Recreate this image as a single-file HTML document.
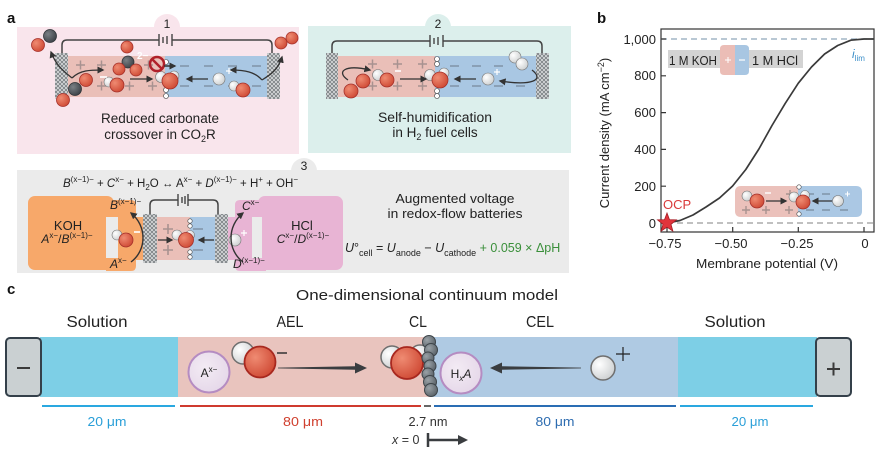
<!DOCTYPE html>
<html><head><meta charset="utf-8"><style>
html,body{margin:0;padding:0;background:#fff;}
svg{display:block;font-family:"Liberation Sans",sans-serif;}
</style></head><body>
<svg width="882" height="457" viewBox="0 0 882 457" xmlns="http://www.w3.org/2000/svg">
<defs>
<pattern id="hatch" width="4" height="4" patternUnits="userSpaceOnUse">
<rect width="4" height="4" fill="#d6d9da"/>
<path d="M0,0 L4,4 M4,0 L0,4" stroke="#6d7377" stroke-width="0.7"/>
</pattern>
<radialGradient id="gO" cx="0.35" cy="0.35" r="0.7"><stop offset="0" stop-color="#ef8b72"/><stop offset="1" stop-color="#cf4a35"/></radialGradient>
<radialGradient id="gH" cx="0.35" cy="0.35" r="0.7"><stop offset="0" stop-color="#ffffff"/><stop offset="1" stop-color="#cdd0d1"/></radialGradient>
<radialGradient id="gC" cx="0.35" cy="0.35" r="0.7"><stop offset="0" stop-color="#7a8085"/><stop offset="1" stop-color="#3c4247"/></radialGradient>
<radialGradient id="gB" cx="0.35" cy="0.35" r="0.7"><stop offset="0" stop-color="#9aa2a7"/><stop offset="1" stop-color="#5a6268"/></radialGradient>
<radialGradient id="gP" cx="0.4" cy="0.4" r="0.7"><stop offset="0" stop-color="#f3ebf4"/><stop offset="1" stop-color="#e4d6e8"/></radialGradient>
<marker id="ar" viewBox="0 0 10 10" refX="8" refY="5" markerWidth="7" markerHeight="7" markerUnits="userSpaceOnUse" orient="auto"><path d="M0,0 L10,5 L0,10 z" fill="#333"/></marker>
</defs>

<!-- ============ PANEL A1 ============ -->
<text x="7" y="23" font-size="15" font-weight="bold" fill="#111">a</text>
<rect x="17" y="27" width="282" height="127" fill="#f9e5ec"/>
<circle cx="167" cy="27" r="13" fill="#f9e5ec"/>
<text x="167" y="28" font-size="12" text-anchor="middle" fill="#222">1</text>
<path d="M62,57 V45 Q62,40 67,40 H159 M172,40 H267 Q272,40 272,45 V57" fill="none" stroke="#444" stroke-width="1.5"/>
<g stroke="#444" stroke-width="1.4"><line x1="159" y1="34" x2="159" y2="46"/><line x1="163" y1="37" x2="163" y2="43"/><line x1="167" y1="36" x2="167" y2="44"/><line x1="172" y1="34" x2="172" y2="46"/></g>
<rect x="68" y="56" width="97" height="41" fill="#eabfb8"/>
<rect x="165" y="56" width="102" height="41" fill="#a9c7e3"/>
<rect x="55" y="53" width="13" height="46" fill="url(#hatch)"/>
<rect x="267" y="53" width="13" height="46" fill="url(#hatch)"/>
<g stroke="#a89290" stroke-width="1.5"><path d="M76,65h9M80.5,60.5v9 M97,65h9M101.5,60.5v9 M144,65h9M148.5,60.5v9 M97,86h9M101.5,81.5v9 M125,86h9M129.5,81.5v9 M148,86h9M152.5,81.5v9"/></g>
<g stroke="#8094a8" stroke-width="1.5"><path d="M180,66h9M204,66h9M228,66h9M252,66h9M180,86h9M204,86h9M228,86h9M252,86h9"/></g>
<!-- molecules a1 -->
<circle cx="38" cy="45" r="6.5" fill="url(#gO)" stroke="#a5302a" stroke-width="0.8"/>
<circle cx="50" cy="36" r="6.5" fill="url(#gC)" stroke="#2f3438" stroke-width="0.8"/>
<circle cx="281" cy="43" r="6" fill="url(#gO)" stroke="#a5302a" stroke-width="0.8"/>
<circle cx="292" cy="38" r="6" fill="url(#gO)" stroke="#a5302a" stroke-width="0.8"/>
<circle cx="86" cy="80" r="6.5" fill="url(#gO)" stroke="#a5302a" stroke-width="0.8"/>
<circle cx="75" cy="89" r="6.5" fill="url(#gC)" stroke="#2f3438" stroke-width="0.8"/>
<circle cx="63" cy="100" r="6.5" fill="url(#gO)" stroke="#a5302a" stroke-width="0.8"/>
<circle cx="127" cy="47" r="6" fill="url(#gO)" stroke="#a5302a" stroke-width="0.8"/>
<circle cx="128" cy="62" r="6" fill="url(#gC)" stroke="#2f3438" stroke-width="0.8"/>
<circle cx="119" cy="69" r="6" fill="url(#gO)" stroke="#a5302a" stroke-width="0.8"/>
<circle cx="136" cy="70" r="6" fill="url(#gO)" stroke="#a5302a" stroke-width="0.8"/>
<text x="137" y="59" font-size="10" font-weight="bold" fill="#fff">2−</text>
<circle cx="109" cy="82" r="5" fill="url(#gH)" stroke="#777" stroke-width="0.6"/>
<circle cx="117" cy="85" r="7" fill="url(#gO)" stroke="#a5302a" stroke-width="0.8"/>
<path d="M100,77h7" stroke="#fff" stroke-width="1.6"/>
<g fill="#fff" stroke="#444" stroke-width="0.6"><circle cx="166" cy="62" r="2.5"/><circle cx="166" cy="90" r="2.5"/><circle cx="166" cy="96" r="2.5"/></g>
<circle cx="174" cy="76" r="5" fill="url(#gH)" stroke="#777" stroke-width="0.6"/>
<circle cx="161" cy="77" r="5.5" fill="url(#gH)" stroke="#777" stroke-width="0.6"/>
<circle cx="170" cy="81" r="8" fill="url(#gO)" stroke="#a5302a" stroke-width="0.8"/>
<circle cx="157" cy="64" r="7" fill="none" stroke="#b0202a" stroke-width="2.5"/>
<line x1="152" y1="59" x2="162" y2="69" stroke="#b0202a" stroke-width="2.5"/>
<path d="M164,66 L175,66" stroke="#333" stroke-width="1.5" marker-end="url(#ar)"/>
<circle cx="219" cy="79" r="6" fill="url(#gH)" stroke="#777" stroke-width="0.6"/>
<path d="M226,71h6M229,68v6" stroke="#fff" stroke-width="1.2"/>
<circle cx="234" cy="86" r="5" fill="url(#gH)" stroke="#777" stroke-width="0.6"/>
<circle cx="243" cy="90" r="7" fill="url(#gO)" stroke="#a5302a" stroke-width="0.8"/>
<path d="M130,79 L152,79" stroke="#333" stroke-width="1.3" marker-end="url(#ar)"/>
<path d="M208,79 L187,79" stroke="#333" stroke-width="1.3" marker-end="url(#ar)"/>
<path d="M72,78 C62,70 56,65 51,52" fill="none" stroke="#333" stroke-width="1.3" marker-end="url(#ar)"/>
<path d="M72,78 C80,70 90,70 103,70" fill="none" stroke="#333" stroke-width="1.3" marker-end="url(#ar)"/>
<path d="M262,80 C270,75 278,70 282,57" fill="none" stroke="#333" stroke-width="1.3" marker-end="url(#ar)"/>
<path d="M262,80 C255,72 245,70 231,70" fill="none" stroke="#333" stroke-width="1.3" marker-end="url(#ar)"/>
<text x="160" y="123" font-size="13.5" text-anchor="middle" fill="#222" textLength="118" lengthAdjust="spacingAndGlyphs">Reduced carbonate</text>
<text x="160" y="139" font-size="13.5" text-anchor="middle" fill="#222">crossover in CO<tspan font-size="9" dy="3">2</tspan><tspan dy="-3">R</tspan></text>

<!-- ============ PANEL A2 ============ -->
<rect x="308" y="26" width="263" height="127" fill="#dcefec"/>
<circle cx="438" cy="27" r="13" fill="#dcefec"/>
<text x="438" y="28" font-size="12" text-anchor="middle" fill="#222">2</text>
<path d="M332,57 V46 Q332,41 337,41 H430 M443,41 H537 Q542,41 542,46 V57" fill="none" stroke="#444" stroke-width="1.5"/>
<g stroke="#444" stroke-width="1.4"><line x1="430" y1="35" x2="430" y2="47"/><line x1="434" y1="38" x2="434" y2="44"/><line x1="438" y1="37" x2="438" y2="45"/><line x1="443" y1="35" x2="443" y2="47"/></g>
<rect x="338" y="56" width="97" height="41" fill="#eabfb8"/>
<rect x="435" y="56" width="101" height="41" fill="#a9c7e3"/>
<rect x="326" y="53" width="12" height="46" fill="url(#hatch)"/>
<rect x="536" y="53" width="13" height="46" fill="url(#hatch)"/>
<g stroke="#a89290" stroke-width="1.5"><path d="M368,64h9M372.5,59.5v9 M393,64h9M397.5,59.5v9 M418,64h9M422.5,59.5v9 M368,86h9M372.5,81.5v9 M393,86h9M397.5,81.5v9 M418,86h9M422.5,81.5v9"/></g>
<g stroke="#8094a8" stroke-width="1.5"><path d="M450,66h9M472,66h9M494,66h9M516,66h9M450,86h9M472,86h9M494,86h9M516,86h9"/></g>
<circle cx="363" cy="81" r="7" fill="url(#gO)" stroke="#a5302a" stroke-width="0.8"/>
<circle cx="351" cy="91" r="7" fill="url(#gO)" stroke="#a5302a" stroke-width="0.8"/>
<circle cx="378" cy="75" r="5.5" fill="url(#gH)" stroke="#777" stroke-width="0.6"/>
<circle cx="387" cy="80" r="7" fill="url(#gO)" stroke="#a5302a" stroke-width="0.8"/>
<path d="M395,71h6" stroke="#fff" stroke-width="1.6"/>
<g fill="#fff" stroke="#444" stroke-width="0.6"><circle cx="437" cy="59" r="2.5"/><circle cx="437" cy="64" r="2.5"/><circle cx="437" cy="91" r="2.5"/><circle cx="437" cy="96" r="2.5"/></g>
<circle cx="444" cy="73" r="5" fill="url(#gH)" stroke="#777" stroke-width="0.6"/>
<circle cx="430" cy="75" r="5.5" fill="url(#gH)" stroke="#777" stroke-width="0.6"/>
<circle cx="440" cy="80" r="8" fill="url(#gO)" stroke="#a5302a" stroke-width="0.8"/>
<path d="M400,79 L426,79" stroke="#333" stroke-width="1.3" marker-end="url(#ar)"/>
<path d="M476,79 L455,79" stroke="#333" stroke-width="1.3" marker-end="url(#ar)"/>
<circle cx="488" cy="79" r="6" fill="url(#gH)" stroke="#777" stroke-width="0.6"/>
<path d="M494,72h6M497,69v6" stroke="#fff" stroke-width="1.2"/>
<circle cx="515" cy="57" r="6" fill="url(#gH)" stroke="#777" stroke-width="0.6"/>
<circle cx="522" cy="64" r="6" fill="url(#gH)" stroke="#777" stroke-width="0.6"/>
<path d="M348,80 C336,72 344,64 370,70" fill="none" stroke="#333" stroke-width="1.3" marker-end="url(#ar)"/>
<path d="M532,70 C545,80 532,86 500,81" fill="none" stroke="#333" stroke-width="1.3" marker-end="url(#ar)"/>
<text x="435" y="122" font-size="13.5" text-anchor="middle" fill="#222" textLength="114" lengthAdjust="spacingAndGlyphs">Self-humidification</text>
<text x="435" y="137" font-size="13.5" text-anchor="middle" fill="#222">in H<tspan font-size="9" dy="3">2</tspan><tspan dy="-3"> fuel cells</tspan></text>

<!-- ============ PANEL A3 ============ -->
<rect x="17" y="170" width="552" height="103" fill="#ebebeb"/>
<circle cx="304" cy="171" r="13" fill="#ebebeb"/>
<text x="304" y="170" font-size="12" text-anchor="middle" fill="#222">3</text>
<text x="63" y="187" font-size="11.5" fill="#222"><tspan font-style="italic">B</tspan><tspan font-size="8" dy="-5">(x−1)−</tspan><tspan dy="5"> + </tspan><tspan font-style="italic">C</tspan><tspan font-size="8" dy="-5">x−</tspan><tspan dy="5"> + H</tspan><tspan font-size="8" dy="3">2</tspan><tspan dy="-3">O ↔ A</tspan><tspan font-size="8" dy="-5">x−</tspan><tspan dy="5"> + </tspan><tspan font-style="italic">D</tspan><tspan font-size="8" dy="-5">(x−1)−</tspan><tspan dy="5"> + H</tspan><tspan font-size="8" dy="-5">+</tspan><tspan dy="5"> + OH</tspan><tspan font-size="8" dy="-5">−</tspan></text>
<!-- KOH -->
<rect x="28" y="196" width="86" height="74" rx="7" fill="#f7a86a"/>
<path d="M106,200 H131 Q136,200 136,205 V217 H143 V260 H136 V266 Q136,271 131,271 H106 V258 H118 V217 H106 z" fill="#f7a86a"/>
<rect x="106" y="217" width="12" height="41" fill="#ebebeb"/>
<text x="68" y="230" font-size="13" text-anchor="middle" fill="#222">KOH</text>
<text x="67" y="243" font-size="12" text-anchor="middle" fill="#222"><tspan font-style="italic">A</tspan><tspan font-size="8" dy="-5">x−</tspan><tspan dy="5">/</tspan><tspan font-style="italic">B</tspan><tspan font-size="8" dy="-5">(x−1)−</tspan></text>
<!-- HCl -->
<rect x="258" y="196" width="85" height="74" rx="7" fill="#e8b4d4"/>
<path d="M266,200 H240 Q235,200 235,205 V217 H228 V260 H235 V266 Q235,271 240,271 H266 V258 H252 V217 H266 z" fill="#e8b4d4"/>
<rect x="252" y="217" width="10" height="41" fill="#ebebeb"/>
<text x="302" y="230" font-size="13" text-anchor="middle" fill="#222">HCl</text>
<text x="303" y="243" font-size="12" text-anchor="middle" fill="#222"><tspan font-style="italic">C</tspan><tspan font-size="8" dy="-5">x−</tspan><tspan dy="5">/</tspan><tspan font-style="italic">D</tspan><tspan font-size="8" dy="-5">(x−1)−</tspan></text>
<!-- cell -->
<path d="M150,217 V205 Q150,200 155,200 H178 M188,200 H213 Q218,200 218,205 V217" fill="none" stroke="#444" stroke-width="1.5"/>
<g stroke="#444" stroke-width="1.4"><line x1="178" y1="194" x2="178" y2="206"/><line x1="182" y1="197" x2="182" y2="203"/><line x1="185" y1="196" x2="185" y2="204"/><line x1="188" y1="194" x2="188" y2="206"/></g>
<rect x="157" y="217" width="33" height="43" fill="#eabfb8"/>
<rect x="190" y="217" width="25" height="43" fill="#a9c7e3"/>
<rect x="143" y="214" width="14" height="49" fill="url(#hatch)"/>
<rect x="215" y="214" width="13" height="49" fill="url(#hatch)"/>
<g stroke="#a89290" stroke-width="1.6"><path d="M163,229h10M168,224v10 M163,250h10M168,245v10"/></g>
<g stroke="#8094a8" stroke-width="1.6"><path d="M193,229h10 M193,250h10"/></g>
<circle cx="117" cy="235" r="5" fill="url(#gH)" stroke="#777" stroke-width="0.6"/>
<circle cx="126" cy="240" r="7" fill="url(#gO)" stroke="#a5302a" stroke-width="0.8"/>
<path d="M134,232h6" stroke="#fff" stroke-width="1.6"/>
<g fill="#fff" stroke="#444" stroke-width="0.6"><circle cx="190" cy="221" r="2.2"/><circle cx="190" cy="226" r="2.2"/><circle cx="190" cy="252" r="2.2"/><circle cx="190" cy="257" r="2.2"/></g>
<circle cx="190" cy="235" r="4.5" fill="url(#gH)" stroke="#777" stroke-width="0.6"/>
<circle cx="177" cy="235" r="5" fill="url(#gH)" stroke="#777" stroke-width="0.6"/>
<circle cx="186" cy="240" r="7.5" fill="url(#gO)" stroke="#a5302a" stroke-width="0.8"/>
<path d="M158,240 L172,240" stroke="#333" stroke-width="1.3" marker-end="url(#ar)"/>
<path d="M214,240 L199,240" stroke="#333" stroke-width="1.3" marker-end="url(#ar)"/>
<circle cx="235" cy="240" r="6" fill="url(#gH)" stroke="#777" stroke-width="0.6"/>
<path d="M241,233h6M244,230v6" stroke="#fff" stroke-width="1.2"/>
<path d="M131,262 C147,250 147,226 131,213" fill="none" stroke="#333" stroke-width="1.4" marker-end="url(#ar)"/>
<path d="M243,262 C227,250 227,226 243,213" fill="none" stroke="#333" stroke-width="1.4" marker-end="url(#ar)"/>
<text x="110" y="209" font-size="12" fill="#222"><tspan font-style="italic">B</tspan><tspan font-size="8" dy="-5">(x−1)−</tspan></text>
<text x="110" y="268" font-size="12" fill="#222"><tspan font-style="italic">A</tspan><tspan font-size="8" dy="-5">x−</tspan></text>
<text x="242" y="210" font-size="12" fill="#222"><tspan font-style="italic">C</tspan><tspan font-size="8" dy="-5">x−</tspan></text>
<text x="233" y="268" font-size="12" fill="#222"><tspan font-style="italic">D</tspan><tspan font-size="8" dy="-5">(x−1)−</tspan></text>
<text x="455" y="203" font-size="13" text-anchor="middle" fill="#222" textLength="119" lengthAdjust="spacingAndGlyphs">Augmented voltage</text>
<text x="455" y="218" font-size="13" text-anchor="middle" fill="#222" textLength="135" lengthAdjust="spacingAndGlyphs">in redox-flow batteries</text>
<text x="345" y="252" font-size="12.5" fill="#222"><tspan font-style="italic">U</tspan>°<tspan font-size="9" dy="4">cell</tspan><tspan dy="-4"> = </tspan><tspan font-style="italic">U</tspan><tspan font-size="9" dy="4">anode</tspan><tspan dy="-4"> − </tspan><tspan font-style="italic">U</tspan><tspan font-size="9" dy="4">cathode</tspan><tspan dy="-4" fill="#3a8f3a"> + 0.059 × ΔpH</tspan></text>

<!-- ============ PANEL B ============ -->
<text x="597" y="23" font-size="15" font-weight="bold" fill="#111">b</text>
<rect x="661" y="29" width="213" height="203" fill="none" stroke="#333" stroke-width="1.2"/>
<line x1="661" y1="39" x2="874" y2="39" stroke="#8fa6ba" stroke-width="1.3" stroke-dasharray="6,4"/>
<line x1="667" y1="223" x2="874" y2="223" stroke="#9a9a9a" stroke-width="1.3" stroke-dasharray="6,4"/>
<g stroke="#333" stroke-width="1.2">
<path d="M661,39h5 M661,75.8h5 M661,112.6h5 M661,149.4h5 M661,186.2h5 M661,223h5"/>
<path d="M667,232v-5 M732.7,232v-5 M798.3,232v-5 M864,232v-5"/>
</g>
<g font-size="13" fill="#222" text-anchor="end">
<text x="656" y="44">1,000</text><text x="656" y="80">800</text><text x="656" y="117">600</text><text x="656" y="154">400</text><text x="656" y="191">200</text><text x="656" y="228">0</text>
</g>
<g font-size="13" fill="#222" text-anchor="middle">
<text x="665" y="248">−0.75</text><text x="731" y="248">−0.50</text><text x="797" y="248">−0.25</text><text x="865" y="248">0</text>
</g>
<text x="767" y="268" font-size="13" text-anchor="middle" fill="#222" textLength="142" lengthAdjust="spacingAndGlyphs">Membrane potential (V)</text>
<text transform="translate(609,133) rotate(-90)" font-size="13" text-anchor="middle" fill="#222">Current density (mA cm<tspan font-size="9" dy="-5">−2</tspan><tspan dy="5">)</tspan></text>
<polyline fill="none" stroke="#3a3a3a" stroke-width="1.7" stroke-linejoin="round" points="667,223 680,220.5 693,215 706,207 719.5,198 732.6,186 745.8,169.5 758.9,149 772,125.5 785.2,103.4 798.3,83.2 811.5,67 824.6,54 837.7,45.5 850.9,40.2 864,39 874,39"/>
<rect x="668" y="50" width="135" height="18" fill="#d3d3d3"/>
<path d="M724,45 H735 V75 H724 Q720,75 720,71 V49 Q720,45 724,45 z" fill="#ebbdb6"/>
<path d="M735,45 H745 Q749,45 749,49 V71 Q749,75 745,75 H735 z" fill="#a8c6e2"/>
<path d="M725,60h6M728,57v6" stroke="#fff" stroke-width="1"/>
<path d="M739,60h6" stroke="#fff" stroke-width="1.2"/>
<text x="669" y="65" font-size="13" fill="#222" textLength="48" lengthAdjust="spacingAndGlyphs">1 M KOH</text>
<text x="752" y="65" font-size="13" fill="#222" textLength="46" lengthAdjust="spacingAndGlyphs">1 M HCl</text>
<text x="852" y="58" font-size="12" fill="#3d8fc9"><tspan font-style="italic">i</tspan><tspan font-size="8" dy="3">lim</tspan></text>
<!-- inset -->
<path d="M741,186 H798 V217 H741 Q735,217 735,211 V192 Q735,186 741,186 z" fill="#ebc1bb"/>
<path d="M798,186 H856 Q862,186 862,192 V211 Q862,217 856,217 H798 z" fill="#abc8e4"/>
<g stroke="#a89290" stroke-width="1.4"><path d="M742,210h8M746,206v8 M762,210h8M766,206v8 M785,210h8M789,206v8 M786,194h8M790,190v8"/></g>
<g stroke="#8094a8" stroke-width="1.4"><path d="M806,194h8M822,194h8M806,210h8M822,210h8M840,210h8"/></g>
<circle cx="747" cy="196" r="5" fill="url(#gH)" stroke="#777" stroke-width="0.6"/>
<circle cx="757" cy="201" r="7" fill="url(#gO)" stroke="#a5302a" stroke-width="0.8"/>
<path d="M765,193h6" stroke="#fff" stroke-width="1.4"/>
<g fill="#fff" stroke="#444" stroke-width="0.6"><circle cx="799" cy="187" r="2.2"/><circle cx="799" cy="214" r="2.2"/></g>
<circle cx="805" cy="195" r="4.5" fill="url(#gH)" stroke="#777" stroke-width="0.6"/>
<circle cx="794" cy="197" r="5" fill="url(#gH)" stroke="#777" stroke-width="0.6"/>
<circle cx="803" cy="202" r="7" fill="url(#gO)" stroke="#a5302a" stroke-width="0.8"/>
<path d="M766,201 L786,201" stroke="#333" stroke-width="1.2" marker-end="url(#ar)"/>
<path d="M832,201 L813,201" stroke="#333" stroke-width="1.2" marker-end="url(#ar)"/>
<circle cx="838" cy="201" r="5.5" fill="url(#gH)" stroke="#777" stroke-width="0.6"/>
<path d="M845,194h5M847.5,191.5v5" stroke="#fff" stroke-width="1"/>
<!-- star -->
<polygon points="667,213 669.5,219.6 676.5,219.9 671,224.3 672.9,231.1 667,227.2 661.1,231.1 663,224.3 657.5,219.9 664.5,219.6" fill="#e0343c" stroke="#a51c24" stroke-width="0.8"/>
<text x="663" y="209" font-size="13" fill="#d93a3a">OCP</text>

<!-- ============ PANEL C ============ -->
<text x="7" y="294" font-size="15" font-weight="bold" fill="#111">c</text>
<text x="427" y="300" font-size="15" text-anchor="middle" fill="#222" textLength="262" lengthAdjust="spacingAndGlyphs">One-dimensional continuum model</text>
<g font-size="15.5" fill="#222" text-anchor="middle">
<text x="97" y="327" textLength="61" lengthAdjust="spacingAndGlyphs">Solution</text>
<text x="290" y="327" textLength="27" lengthAdjust="spacingAndGlyphs">AEL</text>
<text x="418" y="327" textLength="18" lengthAdjust="spacingAndGlyphs">CL</text>
<text x="540" y="327" textLength="28" lengthAdjust="spacingAndGlyphs">CEL</text>
<text x="735" y="327" textLength="61" lengthAdjust="spacingAndGlyphs">Solution</text>
</g>
<rect x="40" y="337" width="139" height="60" fill="#7dcfe6"/>
<rect x="178" y="337" width="252" height="60" fill="#e9c4be"/>
<rect x="430" y="337" width="248" height="60" fill="#afcae3"/>
<rect x="678" y="337" width="139" height="60" fill="#7dcfe6"/>
<rect x="6" y="338" width="35" height="58" rx="4" fill="#cad0d2" stroke="#34404a" stroke-width="2"/>
<line x1="17" y1="368" x2="30" y2="368" stroke="#3a3a3a" stroke-width="2"/>
<rect x="816" y="338" width="35" height="58" rx="4" fill="#cad0d2" stroke="#34404a" stroke-width="2"/>
<path d="M827,369h13M833.5,362.5v13" stroke="#3a3a3a" stroke-width="2"/>
<!-- AEL molecules -->
<circle cx="209" cy="372" r="20.5" fill="url(#gP)" stroke="#b58cc2" stroke-width="2"/>
<text x="209" y="377" font-size="12" text-anchor="middle" fill="#222">A<tspan font-size="8" dy="-5">x−</tspan></text>
<circle cx="243" cy="353" r="11" fill="url(#gH)" stroke="#6f6f6f" stroke-width="1.5"/>
<circle cx="260" cy="362" r="15.5" fill="url(#gO)" stroke="#a8281f" stroke-width="1.8"/>
<line x1="277" y1="353" x2="287" y2="353" stroke="#333" stroke-width="1.5"/>
<polygon points="278,367.6 355,366.3 355,362.5 367,368 355,373.5 355,369.7 278,368.4" fill="#3a3d40"/>
<!-- CL -->
<circle cx="420" cy="355" r="10" fill="url(#gH)" stroke="#6f6f6f" stroke-width="1.5"/>
<circle cx="392" cy="357" r="11" fill="url(#gH)" stroke="#6f6f6f" stroke-width="1.5"/>
<circle cx="407" cy="363" r="16" fill="url(#gO)" stroke="#a8281f" stroke-width="1.8"/>
<g fill="url(#gB)" stroke="#3e454a" stroke-width="1">
<circle cx="429" cy="342" r="6.5"/><circle cx="431" cy="350" r="6.5"/><circle cx="428" cy="358" r="6"/><circle cx="430" cy="366" r="6"/><circle cx="428" cy="374" r="6"/><circle cx="430" cy="382" r="6.5"/><circle cx="431" cy="390" r="6.5"/>
</g>
<!-- CEL -->
<circle cx="461" cy="373" r="20.5" fill="url(#gP)" stroke="#b58cc2" stroke-width="2"/>
<text x="461" y="378" font-size="12" text-anchor="middle" fill="#222">H<tspan font-size="8" font-style="italic" dy="3">x</tspan><tspan font-style="italic" dy="-3">A</tspan></text>
<polygon points="581,367.6 502,366.3 502,362.5 490,368 502,373.5 502,369.7 581,368.4" fill="#3a3d40"/>
<circle cx="603" cy="368" r="12" fill="url(#gH)" stroke="#6f6f6f" stroke-width="1.5"/>
<path d="M616,354h14M623,347v14" stroke="#222" stroke-width="1.2"/>
<!-- scale lines -->
<g stroke-width="2">
<line x1="42" y1="406" x2="175" y2="406" stroke="#2aa8e0"/>
<line x1="180" y1="406" x2="421" y2="406" stroke="#cf3a2f"/>
<line x1="424" y1="406" x2="431" y2="406" stroke="#666"/>
<line x1="434" y1="406" x2="676" y2="406" stroke="#2a6db4"/>
<line x1="680" y1="406" x2="813" y2="406" stroke="#2aa8e0"/>
</g>
<g font-size="13" text-anchor="middle">
<text x="107" y="426" fill="#2a9fd8" textLength="39" lengthAdjust="spacingAndGlyphs">20 μm</text>
<text x="303" y="426" fill="#d0402f" textLength="40" lengthAdjust="spacingAndGlyphs">80 μm</text>
<text x="428" y="426" fill="#333" textLength="39" lengthAdjust="spacingAndGlyphs">2.7 nm</text>
<text x="555" y="426" fill="#2d6cb0" textLength="39" lengthAdjust="spacingAndGlyphs">80 μm</text>
<text x="750" y="426" fill="#2a9fd8" textLength="37" lengthAdjust="spacingAndGlyphs">20 μm</text>
</g>
<text x="392" y="444" font-size="12.5" fill="#333"><tspan font-style="italic">x</tspan> = 0</text>
<line x1="428" y1="433" x2="428" y2="447" stroke="#3a3d40" stroke-width="2.5"/>
<line x1="428" y1="440" x2="460" y2="440" stroke="#3a3d40" stroke-width="2.5"/>
<polygon points="458,435 468,440 458,445" fill="#3a3d40"/>
</svg>
</body></html>
